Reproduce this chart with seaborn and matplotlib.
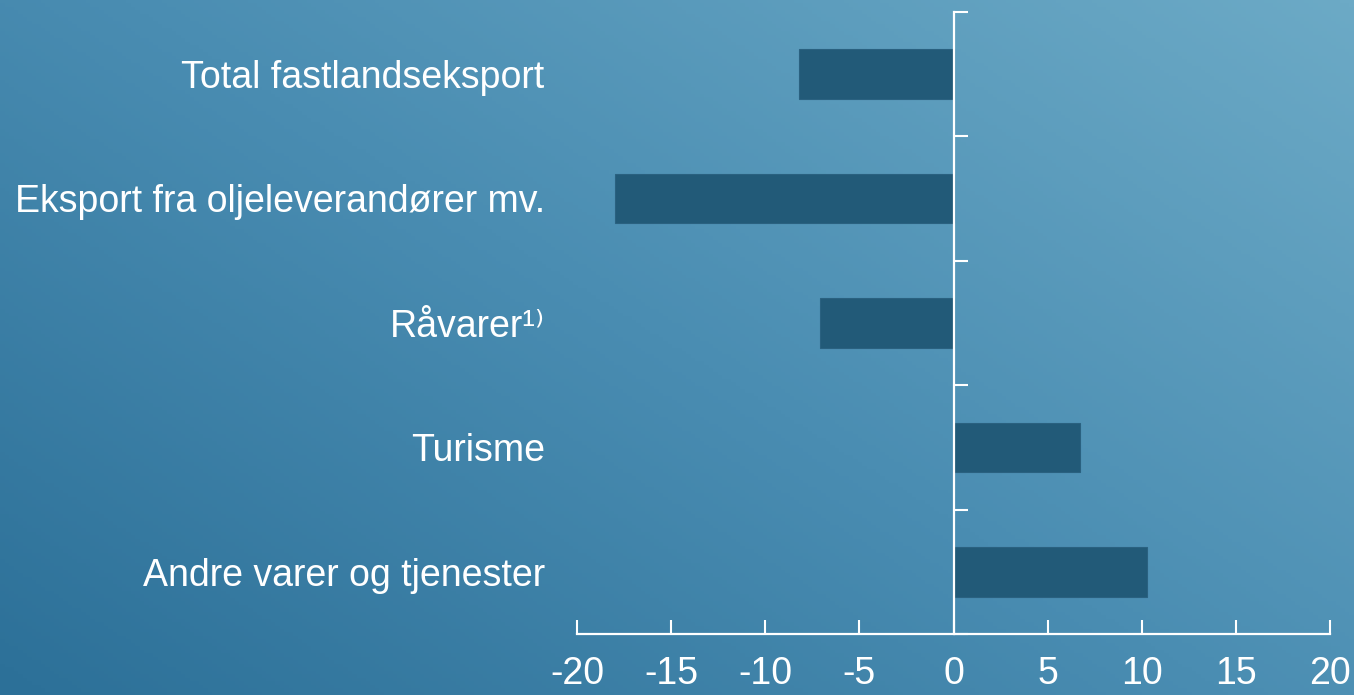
import numpy as np
import pandas as pd
import matplotlib
matplotlib.use("Agg")
import matplotlib.pyplot as plt
import matplotlib.transforms as mtransforms
from matplotlib.colors import LinearSegmentedColormap
import seaborn as sns

# data
categories = ["Total fastlandseksport", "Eksport fra oljeleverandører mv.",
              "Råvarer¹⁾", "Turisme", "Andre varer og tjenester"]
values = [-8.2, -18.0, -7.1, 6.7, 10.3]
xticks = [-20, -15, -10, -5, 0, 5, 10, 15, 20]

df = pd.DataFrame({"kat": categories, "endring": values})

sns.set_style("white")
plt.rcParams["font.family"] = ["Liberation Sans", "DejaVu Sans"]
plt.rcParams["axes.unicode_minus"] = False

fig = plt.figure(figsize=(13.54, 6.95), dpi=100)

# gradient background, dark bottom-left -> light top-right
bg = fig.add_axes([0, 0, 1, 1], zorder=0)
xx, yy = np.meshgrid(np.linspace(0, 1, 300), np.linspace(0, 1, 200))
grad = (xx * 0.55 + yy * 0.45)
cmap = LinearSegmentedColormap.from_list("bg", ["#2c7098", "#4a8db2", "#6caac6"])
bg.imshow(grad, cmap=cmap, origin="lower", aspect="auto", extent=[0, 1, 0, 1])
bg.set_axis_off()

ax = fig.add_axes([0.4262, 0.0878, 0.5561, 0.8949], zorder=1)
ax.patch.set_alpha(0)

sns.barplot(data=df, x="endring", y="kat", orient="h", color="#225a78",
            width=0.4, saturation=1, ax=ax, edgecolor="#2a6180", linewidth=0.8)

ax.set_xlim(-20, 20)
ax.set_ylim(4.5, -0.5)
ax.set_xticks(xticks)
ax.set_xticklabels([str(t) for t in xticks], color="white", fontsize=27)
ax.tick_params(axis="x", bottom=True, direction="in", length=10, width=1.5,
               color="white", pad=16)

# y axis sits at zero with ticks between the categories
ax.spines["left"].set_position(("data", 0))
ax.spines["left"].set_color("white")
ax.spines["left"].set_linewidth(1.6)
ax.spines["bottom"].set_color("white")
ax.spines["bottom"].set_linewidth(1.6)
ax.spines["top"].set_visible(False)
ax.spines["right"].set_visible(False)
ax.set_yticks(np.arange(-0.5, 4.6, 1.0))
ax.set_yticklabels([])
ax.tick_params(axis="y", left=True, direction="in", length=10, width=1.5,
               color="white")
ax.set_xlabel("")
ax.set_ylabel("")

trans = mtransforms.blended_transform_factory(ax.transAxes, ax.transData)
for i, c in enumerate(categories):
    ax.text(-0.043, i + 0.03, c, transform=trans, ha="right", va="center",
            color="white", fontsize=27)

fig.savefig("out.png", dpi=100)
